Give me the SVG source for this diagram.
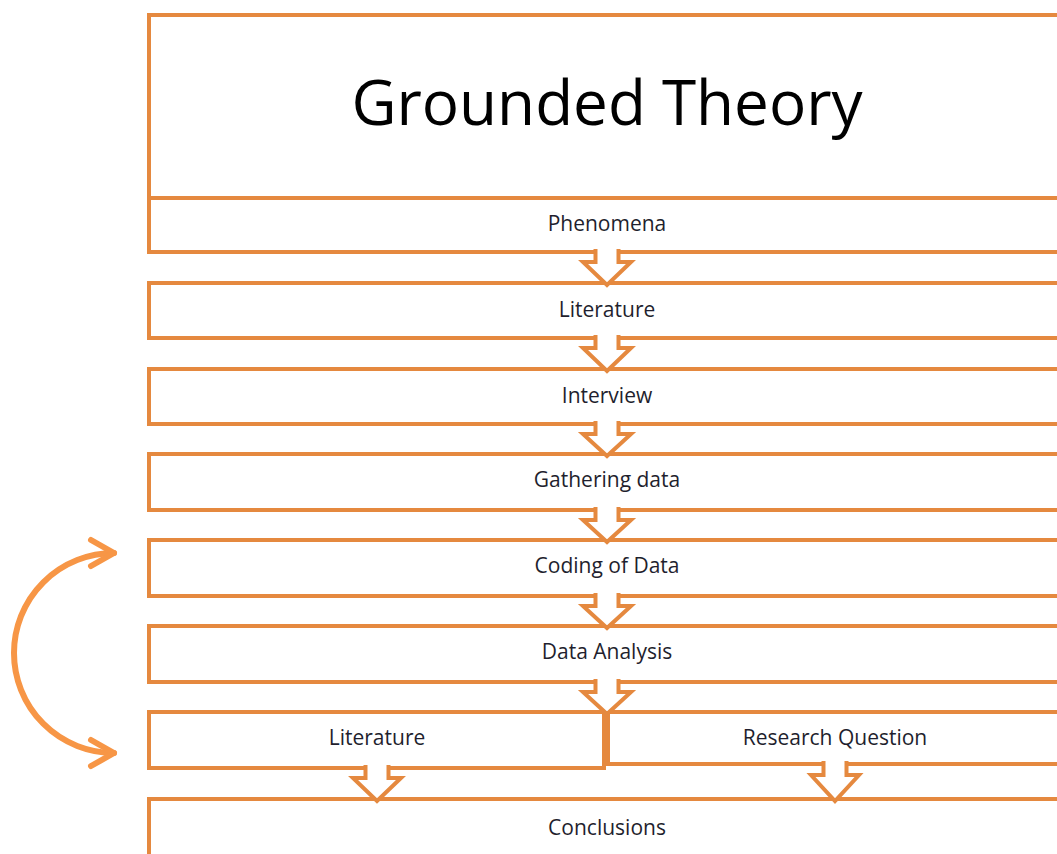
<svg xmlns="http://www.w3.org/2000/svg" width="1057" height="854" viewBox="0 0 1057 854">
  <defs>
    <style>
      .box { fill: #ffffff; stroke: #E5893F; stroke-width: 4; }
      .chev { fill: #ffffff; stroke: #E5893F; stroke-width: 4; stroke-linejoin: miter; }
      .lbl { font-family: "Open Sans", "Liberation Sans", sans-serif; font-size: 21px; fill: #1f1f2e; text-anchor: middle; }
      .title { font-family: "Open Sans", "Liberation Sans", sans-serif; font-size: 62px; fill: #000000; text-anchor: middle; }
      .loop { fill: none; stroke: #F79646; stroke-width: 6; stroke-linecap: round; }
    </style>
    <marker id="open-head" viewBox="-28 -17 32 34" markerWidth="32" markerHeight="34" refX="0" refY="0" markerUnits="userSpaceOnUse" orient="auto-start-reverse">
      <polyline points="-23,-13 0,0 -23,13" fill="none" stroke="#F79646" stroke-width="6" stroke-linecap="round" stroke-linejoin="round"/>
    </marker>
  </defs>

  <rect width="1057" height="854" fill="#ffffff"/>

  <!-- title panel -->
  <g id="title">
    <rect class="box" x="149" y="15" width="940" height="183"/>
    <text class="title" x="607" y="125">Grounded Theory</text>
  </g>

  <g id="phenomena">
    <rect class="box" x="149" y="198" width="940" height="54"/>
    <text class="lbl" x="607" y="231">Phenomena</text>
  </g>

  <g id="literature">
    <rect class="box" x="149" y="283" width="940" height="55"/>
    <text class="lbl" x="607" y="317">Literature</text>
  </g>

  <g id="interview">
    <rect class="box" x="149" y="369" width="940" height="55"/>
    <text class="lbl" x="607" y="403">Interview</text>
  </g>

  <g id="gathering-data">
    <rect class="box" x="149" y="454" width="940" height="56"/>
    <text class="lbl" x="607" y="487">Gathering data</text>
  </g>

  <g id="coding-of-data">
    <rect class="box" x="149" y="540" width="940" height="56"/>
    <text class="lbl" x="607" y="573">Coding of Data</text>
  </g>

  <g id="data-analysis">
    <rect class="box" x="149" y="626" width="940" height="56"/>
    <text class="lbl" x="607" y="659">Data Analysis</text>
  </g>

  <g id="literature-review">
    <rect class="box" x="149" y="712" width="455" height="56"/>
    <text class="lbl" x="377" y="745">Literature</text>
  </g>

  <g id="research-question">
    <rect class="box" x="608" y="712" width="481" height="52"/>
    <text class="lbl" x="835" y="745">Research Question</text>
  </g>

  <g id="conclusions">
    <rect class="box" x="149" y="799" width="940" height="80"/>
    <text class="lbl" x="607" y="835">Conclusions</text>
  </g>

  <!-- connectors: block arrows between stages, and the loop on the left -->
  <g id="connectors">
    <path class="chev" d="M595.5,249 V262 H583 L607,285 L631,262 H618.5 V249"/>
    <path class="chev" d="M595.5,335 V348 H583 L607,371 L631,348 H618.5 V335"/>
    <path class="chev" d="M595.5,421 V434 H583 L607,456 L631,434 H618.5 V421"/>
    <path class="chev" d="M595.5,507 V520 H583 L607,542 L631,520 H618.5 V507"/>
    <path class="chev" d="M595.5,593 V606 H583 L607,628 L631,606 H618.5 V593"/>
    <path class="chev" d="M595.5,679 V692 H583 L607,714 L631,692 H618.5 V679"/>
    <path class="chev" d="M365.5,765 V778 H353 L377,801 L401,778 H388.5 V765"/>
    <path class="chev" d="M823.5,761 V775 H811 L835,801 L859,775 H846.5 V761"/>
    <path class="loop" d="M114,553 A100,100 0 0 0 114,753" marker-start="url(#open-head)" marker-end="url(#open-head)"/>
  </g>
</svg>
